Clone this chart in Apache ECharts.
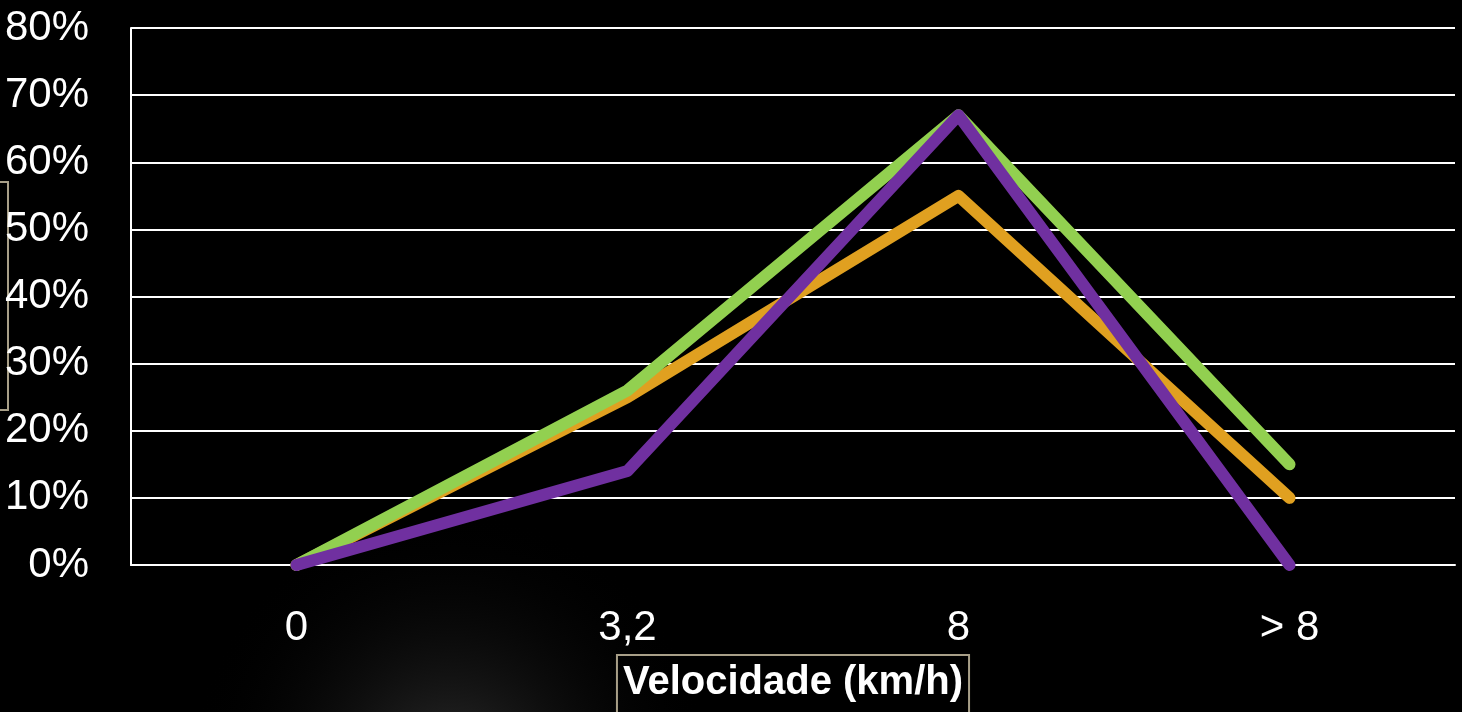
<!DOCTYPE html>
<html>
<head>
<meta charset="utf-8">
<script src="https://cdn.jsdelivr.net/npm/echarts@6/dist/echarts.min.js"></script>
<style>
html,body{margin:0;padding:0;background:#000;}
#chart{width:1462px;height:712px;}
</style>
</head>
<body>
<div id="chart"></div>
<script>
const categories = ['0', '3,2', '8', '> 8'];
const seriesOrange = [0, 25, 55, 10];
const seriesGreen = [0, 26, 67, 15];
const seriesPurple = [0, 14, 67, 0];
const yTicks = [0, 10, 20, 30, 40, 50, 60, 70, 80];
const xTitle = 'Velocidade (km/h)';

const FONT = "'Liberation Sans Narrow', 'Arial Narrow', 'Liberation Sans', sans-serif";

const chart = echarts.init(document.getElementById('chart'));

function lineSeries(name, data, color) {
  return {
    name: name,
    type: 'line',
    data: data,
    symbol: 'none',
    clip: true,
    lineStyle: { color: color, width: 12, cap: 'round', join: 'round' },
    itemStyle: { color: color }
  };
}

chart.setOption({
  backgroundColor: '#000',
  animation: false,
  graphic: [
    {
      type: 'circle',
      z: -10,
      silent: true,
      shape: { cx: 450, cy: 770, r: 260 },
      style: {
        fill: {
          type: 'radial', x: 0.5, y: 0.5, r: 0.5,
          colorStops: [
            { offset: 0, color: 'rgba(90,90,90,0.5)' },
            { offset: 1, color: 'rgba(0,0,0,0)' }
          ]
        }
      }
    },
    {
      type: 'rect',
      silent: true,
      shape: { x: -40, y: 182, width: 48, height: 228 },
      style: { fill: 'none', stroke: '#a89f88', lineWidth: 2 }
    }
  ],
  grid: { left: 131, right: 7, top: 28, bottom: 147, containLabel: false, outerBoundsMode: 'none' },
  xAxis: {
    type: 'category',
    data: categories,
    boundaryGap: true,
    axisLine: { show: true, lineStyle: { color: '#ffffff', width: 2 } },
    axisTick: { show: false },
    axisLabel: { color: '#ffffff', fontSize: 42, fontFamily: FONT, margin: 42 },
    name: xTitle,
    nameLocation: 'middle',
    nameGap: 88,
    nameTextStyle: {
      color: '#ffffff', fontSize: 40, fontWeight: 'bold', fontFamily: FONT,
      borderColor: '#a89f88', borderWidth: 2, padding: [8, 6, 30, 6]
    }
  },
  yAxis: {
    type: 'value',
    min: 0, max: 80, interval: 10,
    axisLine: { show: true, lineStyle: { color: '#ffffff', width: 2 } },
    axisTick: { show: false },
    splitLine: { show: true, lineStyle: { color: '#ffffff', width: 2 } },
    axisLabel: {
      color: '#ffffff', fontSize: 42, fontFamily: FONT, margin: 42,
      formatter: function (v) { return yTicks.indexOf(v) >= 0 ? v + '%' : ''; }
    }
  },
  series: [
    lineSeries('Laranja', seriesOrange, '#E0A020'),
    lineSeries('Verde', seriesGreen, '#92D050'),
    lineSeries('Roxo', seriesPurple, '#7030A0')
  ]
});
</script>
</body>
</html>
